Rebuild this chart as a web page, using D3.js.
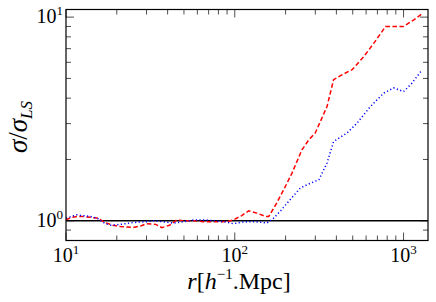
<!DOCTYPE html>
<html><head><meta charset="utf-8">
<script src="https://cdn.jsdelivr.net/npm/d3@7"></script>
<style>
body{margin:0;background:#fff;}
svg{display:block;}
text{font-family:"Liberation Serif","DejaVu Serif",serif;fill:#000;}
</style></head>
<body><div id="chart"></div>
<script>
// Red dashed series
const redR = [10, 10.8, 11.6, 12.5, 13.9, 15.5, 17.0, 19.0, 21.0, 25.0, 28.0, 30.0, 34.0, 37.0, 41.0, 45.4, 50.0, 57.0, 65.0, 74.0, 84.0, 92.0, 98.0, 110, 121, 135, 152, 159, 175, 195, 218, 250, 275, 300, 352, 385, 430, 496, 582, 667, 782, 880, 1000, 1150, 1300];
const redV = [1.01, 1.04, 1.05, 1.05, 1.04, 1.03, 0.98, 0.95, 0.937, 0.927, 0.945, 0.967, 0.96, 0.925, 0.95, 1.01, 1.0, 1.0, 0.99, 0.99, 0.99, 0.995, 1.01, 1.06, 1.12, 1.09, 1.05, 1.05, 1.2, 1.42, 1.71, 2.23, 2.5, 2.70, 3.64, 4.93, 5.2, 5.52, 6.41, 7.45, 8.99, 9.0, 8.99, 9.7, 10.45];
// Blue dotted series
const blueR = [10, 10.8, 11.6, 12.5, 13.9, 15.3, 17.0, 18.5, 21.0, 25.0, 30.0, 33.0, 37.0, 43.0, 50.0, 58.0, 66.0, 76.0, 86.0, 98.0, 110, 124, 140, 155, 170, 187, 204, 245, 281, 315, 352, 385, 463, 531, 636, 764, 875, 1000, 1122, 1290];
const blueV = [1.03, 1.05, 1.07, 1.06, 1.05, 1.03, 0.97, 0.95, 0.96, 0.98, 0.99, 1.0, 0.99, 0.974, 0.99, 1.01, 1.01, 1.0, 0.99, 0.967, 0.985, 0.99, 0.985, 0.974, 1.03, 1.12, 1.22, 1.45, 1.53, 1.59, 1.92, 2.45, 2.70, 3.02, 3.64, 4.24, 4.49, 4.31, 4.74, 5.52];
const refLine = [1.0];
const xTicks = [10, 100, 1000];
const xTickExp = ["1", "2", "3"];
const yTicks = [1, 10];
const yTickExp = ["0", "1"];

const W = 436, H = 302;
const m = {left: 66, right: 436 - 428, top: 9.5, bottom: 302 - 240.5};
const svg = d3.select("#chart").append("svg").attr("width", W).attr("height", H);

const x = d3.scaleLog().domain([10, 1396]).range([m.left, W - m.right]);
const y = d3.scaleLog().domain([0.80, 10.9]).range([H - m.bottom, m.top]);

svg.append("clipPath").attr("id", "clip").append("rect")
  .attr("x", m.left).attr("y", m.top).attr("width", W - m.left - m.right).attr("height", H - m.top - m.bottom);

function minors(lo, hi) {
  const out = [];
  for (let e = Math.floor(Math.log10(lo)); e <= Math.ceil(Math.log10(hi)); e++) {
    for (let k = 1; k < 10; k++) {
      const v = k * Math.pow(10, e);
      if (v >= lo && v <= hi) out.push({v, major: k === 1});
    }
  }
  return out;
}
const xt = minors(10, 1396), yt = minors(0.8, 10.9);
const x0 = m.left, x1 = W - m.right, y0 = H - m.bottom, y1 = m.top;
const tickG = svg.append("g").attr("stroke", "#000").attr("stroke-width", 0.7);
xt.forEach(t => {
  const L = t.major ? 8 : 5;
  const px = x(t.v);
  tickG.append("line").attr("x1", px).attr("x2", px).attr("y1", y0).attr("y2", y0 - L);
  tickG.append("line").attr("x1", px).attr("x2", px).attr("y1", y1).attr("y2", y1 + L);
});
yt.forEach(t => {
  const L = t.major ? 8 : 5;
  const py = y(t.v);
  tickG.append("line").attr("y1", py).attr("y2", py).attr("x1", x0).attr("x2", x0 + L);
  tickG.append("line").attr("y1", py).attr("y2", py).attr("x1", x1).attr("x2", x1 - L);
});

const lineGen = d3.line().x(d => x(d[0])).y(d => y(d[1]));
const plot = svg.append("g").attr("clip-path", "url(#clip)");
plot.append("line").attr("x1", x0).attr("x2", x1).attr("y1", y(refLine[0])).attr("y2", y(refLine[0]))
  .attr("stroke", "#000").attr("stroke-width", 1.3);
plot.append("path").datum(d3.zip(redR, redV)).attr("d", lineGen)
  .attr("fill", "none").attr("stroke", "#ff0000").attr("stroke-width", 1.5).attr("stroke-dasharray", "4.5,2.5");
plot.append("path").datum(d3.zip(blueR, blueV)).attr("d", lineGen)
  .attr("fill", "none").attr("stroke", "#0000ff").attr("stroke-width", 1.5).attr("stroke-dasharray", "1.2,2.4");

svg.append("rect").attr("x", x0).attr("y", y1).attr("width", x1 - x0).attr("height", y0 - y1)
  .attr("fill", "none").attr("stroke", "#000").attr("stroke-width", 1.2);

xTicks.forEach((v, i) => {
  const t = svg.append("text").attr("x", x(v)).attr("y", 262).attr("text-anchor", "middle").attr("font-size", 20);
  t.append("tspan").text("10");
  t.append("tspan").attr("font-size", 13).attr("dy", -8).text(xTickExp[i]);
});
yTicks.forEach((v, i) => {
  const t = svg.append("text").attr("x", 63).attr("y", y(v) + 6).attr("text-anchor", "end").attr("font-size", 20);
  t.append("tspan").text("10");
  t.append("tspan").attr("font-size", 13).attr("dy", -8).text(yTickExp[i]);
});

const xl = svg.append("text").attr("x", 239).attr("y", 289).attr("text-anchor", "middle").attr("font-size", 24);
xl.append("tspan").attr("font-style", "italic").text("r");
xl.append("tspan").text("[");
xl.append("tspan").attr("font-style", "italic").text("h");
xl.append("tspan").attr("font-size", 15).attr("dy", -10).text("−1");
xl.append("tspan").attr("dy", 10).text(".Mpc]");

const yl = svg.append("text").attr("transform", "translate(27,127) rotate(-90)").attr("text-anchor", "middle").attr("font-size", 27);
yl.append("tspan").attr("font-style", "italic").text("σ");
yl.append("tspan").text("/");
yl.append("tspan").attr("font-style", "italic").text("σ");
yl.append("tspan").attr("font-style", "italic").attr("font-size", 17).attr("dy", 5).text("LS");
</script></body></html>
